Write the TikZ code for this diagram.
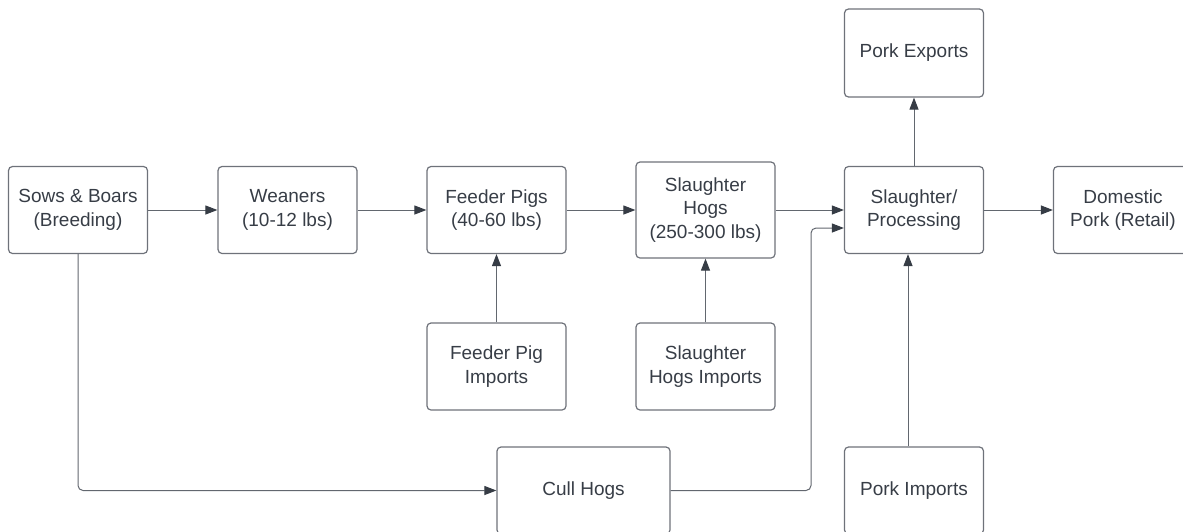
\documentclass[tikz,border=0pt]{standalone}
\usepackage{fontspec}
\setmainfont{Liberation Sans}
\usepackage{tikz}
\usetikzlibrary{arrows.meta,positioning}
\definecolor{boxgray}{HTML}{6E727A}
\definecolor{linegray}{HTML}{62676F}
\definecolor{tipdark}{HTML}{363C45}
\definecolor{textdark}{HTML}{373D46}

\tikzset{
    stage/.style={draw=boxgray, line width=1.2pt, rounded corners=4pt, align=center,
        minimum width=139pt, minimum height=87pt, inner sep=2pt, text=textdark,
        font=\fontsize{19}{23.5}\selectfont},
    flow/.style={draw=linegray, line width=1pt,
        -{Triangle[length=12pt,width=9pt,color=tipdark]}}
}

\begin{document}
\begin{tikzpicture}[x=1pt,y=-1pt]
    % frame
    \useasboundingbox (0,0) rectangle (1183,531);
    \clip (0,0) rectangle (1183,531);

    % main chain
    \node[stage] (sows) at (78,210) {Sows \& Boars\\(Breeding)};
    \node[stage] (wean) at (287.5,210) {Weaners\\(10-12 lbs)};
    \node[stage] (feed) at (496.5,210) {Feeder Pigs\\(40-60 lbs)};
    \node[stage, minimum height=96pt] (hogs) at (705.5,210) {Slaughter\\Hogs\\(250-300 lbs)};
    \node[stage] (proc) at (914,210) {Slaughter/\\Processing};
    \node[stage] (dom) at (1123,210) {Domestic\\Pork (Retail)};

    % side stages
    \node[stage, minimum height=88pt] (exp) at (914,53) {Pork Exports};
    \node[stage] (fimp) at (496.5,366.5) {Feeder Pig\\Imports};
    \node[stage] (himp) at (705.5,366.5) {Slaughter\\Hogs Imports};
    \node[stage, minimum width=173pt] (cull) at (583.5,490.5) {Cull Hogs};
    \node[stage] (pimp) at (914,490.5) {Pork Imports};

    \coordinate (cullup) at (811,228);

    % flows
    \draw[flow] (sows) -- (wean);
    \draw[flow] (wean) -- (feed);
    \draw[flow] (feed) -- (hogs);
    \draw[flow] (hogs) -- (proc);
    \draw[flow] (proc) -- (dom);
    \draw[flow] (proc) -- (exp);
    \draw[flow] (fimp) -- (feed);
    \draw[flow] (himp) -- (hogs);
    \draw[flow] ([xshift=-6pt]pimp.north) -- ([xshift=-6pt]proc.south);
    \draw[flow, rounded corners=5pt] (sows.south) |- (cull.west);
    \draw[flow, rounded corners=5pt] (cull.east) -| (cullup) -- (cullup -| proc.west);
\end{tikzpicture}
\end{document}
